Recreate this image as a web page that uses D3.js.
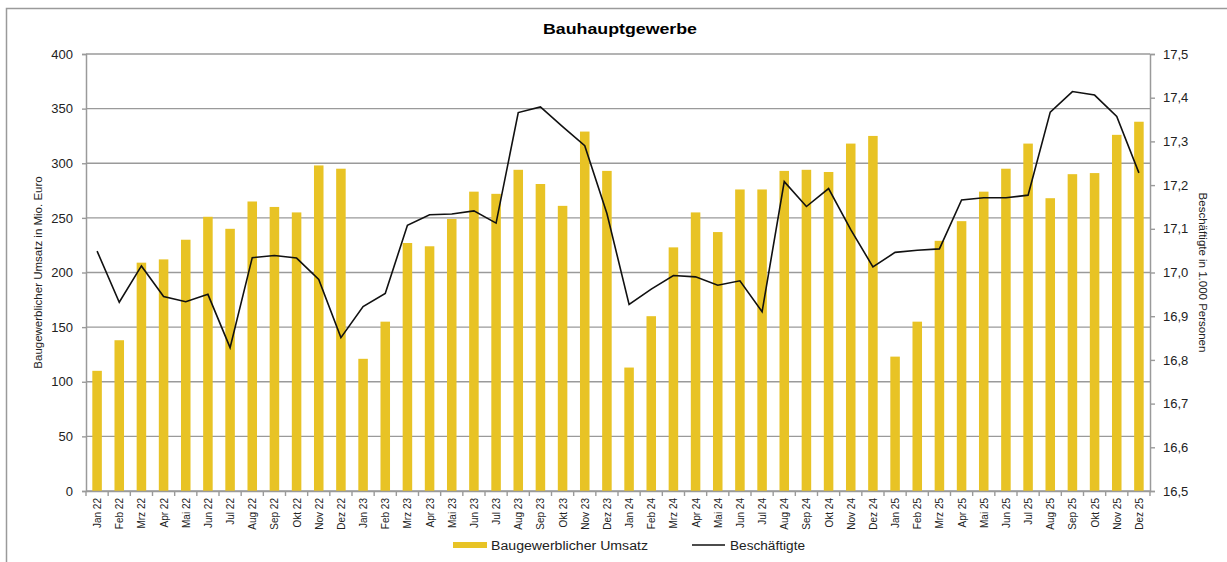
<!DOCTYPE html>
<html>
<head>
<meta charset="utf-8">
<script src="https://cdn.jsdelivr.net/npm/d3@7"></script>
<style>
  body { margin: 0; background: #fff; }
  svg { display: block; font-family: "Liberation Sans", Arial, sans-serif; }
</style>
</head>
<body>
<svg id="chart" width="1227" height="562"></svg>
<script>
// Monthly labels
const months = ['Jan', 'Feb', 'Mrz', 'Apr', 'Mai', 'Jun', 'Jul', 'Aug', 'Sep', 'Okt', 'Nov', 'Dez'];
const years = ['22', '23', '24', '25'];
const categories = years.flatMap(y => months.map(m => m + ' ' + y));

// Baugewerblicher Umsatz (Mio. Euro)
const umsatz = [
  110, 138, 209, 212, 230, 251, 240, 265, 260, 255, 298, 295,
  121, 155, 227, 224, 249, 274, 272, 294, 281, 261, 329, 293,
  113, 160, 223, 255, 237, 276, 276, 293, 294, 292, 318, 325,
  123, 155, 229, 247, 274, 295, 318, 268, 290, 291, 326, 338
];

// Beschäftigte (1.000 Personen)
const beschaeftigte = [
  17.049, 16.932, 17.015, 16.945, 16.933, 16.950, 16.828, 17.034, 17.039, 17.033, 16.984, 16.851,
  16.922, 16.952, 17.108, 17.132, 17.134, 17.141, 17.113, 17.366, 17.379, 17.334, 17.290, 17.135,
  16.927, 16.962, 16.993, 16.990, 16.971, 16.981, 16.910, 17.208, 17.151, 17.192, 17.098, 17.013,
  17.046, 17.051, 17.054, 17.166, 17.171, 17.171, 17.177, 17.367, 17.414, 17.406, 17.357, 17.228
];

const leftTicks = d3.range(0, 401, 50);
const rightTicks = d3.range(16.5, 17.501, 0.1);

const svg = d3.select('#chart');
const grey = '#9a9a9a';
const barColor = '#e8c325';
const m = { left: 86, right: 1150, top: 54, bottom: 491 };

// Outer frame
svg.append('rect')
  .attr('x', 6.5).attr('y', 8.5)
  .attr('width', 1300).attr('height', 700)
  .attr('fill', 'none').attr('stroke', grey).attr('stroke-width', 1.5);

const x = d3.scaleBand().domain(categories).range([m.left, m.right]);
const yL = d3.scaleLinear().domain([0, 400]).range([m.bottom, m.top]);
const yR = d3.scaleLinear().domain([16.5, 17.5]).range([m.bottom, m.top]);

// Gridlines
svg.append('g').selectAll('line').data(leftTicks).join('line')
  .attr('x1', m.left).attr('x2', m.right)
  .attr('y1', d => yL(d)).attr('y2', d => yL(d))
  .attr('stroke', grey).attr('stroke-width', 1.4);

// Bars
const bw = x.bandwidth() * 0.43;
svg.append('g').selectAll('rect').data(umsatz).join('rect')
  .attr('x', (d, i) => x(categories[i]) + (x.bandwidth() - bw) / 2)
  .attr('y', d => yL(d))
  .attr('width', bw)
  .attr('height', d => yL(0) - yL(d))
  .attr('fill', barColor);

// Line
const line = d3.line()
  .x((d, i) => x(categories[i]) + x.bandwidth() / 2)
  .y(d => yR(d));
svg.append('path')
  .datum(beschaeftigte)
  .attr('d', line)
  .attr('fill', 'none')
  .attr('stroke', '#111')
  .attr('stroke-width', 1.6);

// Left axis
const leftAxis = svg.append('g').attr('transform', `translate(${m.left},0)`)
  .call(d3.axisLeft(yL).tickValues(leftTicks).tickSize(4).tickPadding(9).tickFormat(d3.format('d')));
// Right axis
const rightAxis = svg.append('g').attr('transform', `translate(${m.right},0)`)
  .call(d3.axisRight(yR).tickValues(rightTicks).tickSize(5).tickPadding(8)
    .tickFormat(d => d3.format('.1f')(d).replace('.', ',')));
// Bottom axis
const bottomAxis = svg.append('g').attr('transform', `translate(0,${m.bottom})`)
  .call(d3.axisBottom(x).tickSize(0).tickPadding(0));

[leftAxis, rightAxis].forEach(g => {
  g.select('.domain').attr('stroke', grey).attr('stroke-width', 1.5);
  g.selectAll('.tick line').attr('stroke', grey).attr('stroke-width', 1.4);
  g.selectAll('.tick text').attr('fill', '#222').style('font-size', '13px');
});

bottomAxis.select('.domain').attr('stroke', grey).attr('stroke-width', 1.5);
bottomAxis.selectAll('.tick text')
  .attr('fill', '#222')
  .style('font-size', '10px')
  .attr('text-anchor', 'end')
  .attr('transform', 'translate(4,7) rotate(-90)')
  .attr('dy', 0).attr('y', 0);

// Category separator ticks
svg.append('g').selectAll('line').data(categories.concat(['end'])).join('line')
  .attr('x1', (d, i) => m.left + i * x.step())
  .attr('x2', (d, i) => m.left + i * x.step())
  .attr('y1', m.bottom).attr('y2', m.bottom + 5)
  .attr('stroke', grey).attr('stroke-width', 1.4);

// Title
svg.append('text')
  .attr('x', 543).attr('y', 34)
  .attr('textLength', 154).attr('lengthAdjust', 'spacingAndGlyphs')
  .style('font-size', '14px').style('font-weight', 'bold')
  .text('Bauhauptgewerbe');

// Axis titles
svg.append('text')
  .attr('transform', `translate(42,${(m.top + m.bottom) / 2}) rotate(-90)`)
  .attr('text-anchor', 'middle')
  .style('font-size', '11.5px').attr('fill', '#222')
  .text('Baugewerblicher Umsatz in Mio. Euro');
svg.append('text')
  .attr('transform', `translate(1199,${(m.top + m.bottom) / 2}) rotate(90)`)
  .attr('text-anchor', 'middle')
  .style('font-size', '11.5px').attr('fill', '#222')
  .text('Beschäftigte in 1.000 Personen');

// Legend
const lg = svg.append('g');
lg.append('rect').attr('x', 453).attr('y', 542).attr('width', 34).attr('height', 6).attr('fill', barColor);
lg.append('text').attr('x', 491).attr('y', 549.5).style('font-size', '12.5px').attr('fill', '#222')
  .attr('textLength', 157).attr('lengthAdjust', 'spacingAndGlyphs')
  .text('Baugewerblicher Umsatz');
lg.append('line').attr('x1', 692).attr('x2', 725).attr('y1', 545).attr('y2', 545)
  .attr('stroke', '#111').attr('stroke-width', 1.6);
lg.append('text').attr('x', 730).attr('y', 549.5).style('font-size', '12.5px').attr('fill', '#222')
  .attr('textLength', 75).attr('lengthAdjust', 'spacingAndGlyphs')
  .text('Beschäftigte');
</script>
</body>
</html>
